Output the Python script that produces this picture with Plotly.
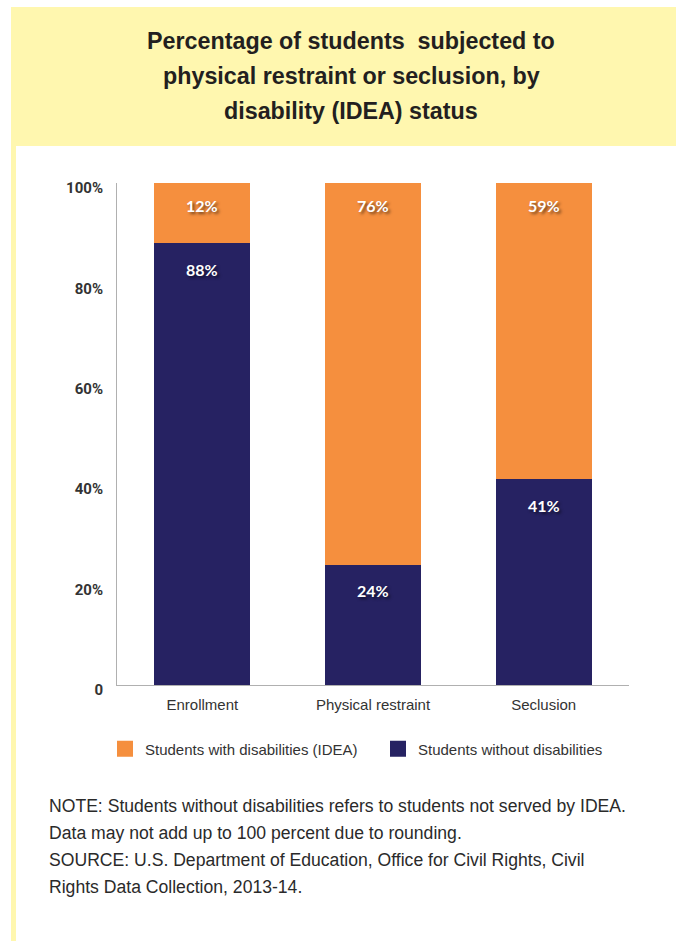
import plotly.graph_objects as go

# Data
categories = ["Enrollment", "Physical restraint", "Seclusion"]
with_disab = [12, 76, 59]       # Students with disabilities (IDEA)
without_disab = [88, 24, 41]    # Students without disabilities
series_names = ["Students with disabilities (IDEA)", "Students without disabilities"]
tick_vals = [0, 20, 40, 60, 80, 100]
tick_text = ["0", "20%", "40%", "60%", "80%", "100%"]
title_lines = [
    "Percentage of students  subjected to",
    "physical restraint or seclusion, by",
    "disability (IDEA) status",
]
note_lines = [
    "NOTE: Students without disabilities refers to students not served by IDEA.",
    "Data may not add up to 100 percent due to rounding.",
    "SOURCE: U.S. Department of Education, Office for Civil Rights, Civil",
    "Rights Data Collection, 2013-14.",
]

ORANGE = "#F58F3E"
NAVY = "#262262"
YELLOW = "#FFF7AF"
SANS = "Liberation Sans, Arial, sans-serif"

W, H = 676, 941
L, R, T, B = 117, 47, 183, 256
PW, PH = W - L - R, H - T - B


def px_x(px):
    return (px - L) / PW


def px_y(py):
    return (H - B - py) / PH


fig = go.Figure()

fig.add_trace(go.Bar(
    x=categories, y=without_disab, name=series_names[1],
    marker=dict(color=NAVY, line=dict(width=0)), showlegend=False,
))
fig.add_trace(go.Bar(
    x=categories, y=with_disab, name=series_names[0],
    marker=dict(color=ORANGE, line=dict(width=0)), showlegend=False,
))

# legend entries with larger square swatches
for name, col in zip(series_names, [ORANGE, NAVY]):
    fig.add_trace(go.Scatter(
        x=[None], y=[None], mode="markers", name=name,
        marker=dict(symbol="square", size=16, color=col),
    ))

annotations = []
shadow = "2px 2px 3px rgba(0,0,0,0.55)"
label_font = dict(family="Lato, Noto Sans, sans-serif", size=16, color="white",
                  weight="bold", shadow=shadow)
for cat, lo, hi in zip(categories, without_disab, with_disab):
    annotations.append(dict(x=cat, y=lo, xref="x", yref="y", text=f"{lo}%",
                            showarrow=False, yanchor="middle", yshift=-26,
                            font=label_font))
    annotations.append(dict(x=cat, y=lo + hi, xref="x", yref="y", text=f"{hi}%",
                            showarrow=False, yanchor="middle", yshift=-22,
                            font=label_font))

# title lines
for i, line in enumerate(title_lines):
    annotations.append(dict(x=px_x(351), y=px_y(41 + 35 * i), xref="paper", yref="paper",
                            text=f"<b>{line}</b>", showarrow=False,
                            xanchor="center", yanchor="middle",
                            font=dict(family=SANS, size=23.3, color="#231f20")))

# notes
for i, line in enumerate(note_lines):
    annotations.append(dict(x=px_x(47), y=px_y(806 + 27 * i), xref="paper", yref="paper",
                            text=line, showarrow=False,
                            xanchor="left", yanchor="middle",
                            font=dict(family=SANS, size=17.6, color="#2a2a2a")))

shapes = [
    dict(type="rect", xref="paper", yref="paper", x0=px_x(11), x1=px_x(W),
         y0=px_y(146), y1=px_y(7), fillcolor=YELLOW, line=dict(width=0), layer="below"),
    dict(type="rect", xref="paper", yref="paper", x0=px_x(11), x1=px_x(16),
         y0=px_y(H), y1=px_y(146), fillcolor=YELLOW, line=dict(width=0), layer="below"),
]

fig.update_layout(
    width=W, height=H,
    margin=dict(l=L, r=R, t=T, b=B, pad=0),
    paper_bgcolor="white", plot_bgcolor="white",
    barmode="stack", bargap=0.4375,
    showlegend=True,
    legend=dict(orientation="h", x=px_x(105), y=px_y(749), xanchor="left", yanchor="middle",
                traceorder="normal",
                font=dict(family=SANS, size=15, color="#333333"),
                entrywidth=228, entrywidthmode="pixels",
                itemclick=False, itemdoubleclick=False, bgcolor="rgba(0,0,0,0)"),
    annotations=annotations,
    shapes=shapes,
    xaxis=dict(range=[-0.5, 2.5], showline=True, linecolor="#b0b0b0", linewidth=1,
               ticks="", showgrid=False, zeroline=False,
               tickfont=dict(family=SANS, size=15, color="#333333"),
               ticklabelstandoff=6, fixedrange=True),
    yaxis=dict(range=[0, 100], tickvals=tick_vals, ticktext=tick_text,
               showline=True, linecolor="#b0b0b0", linewidth=1,
               ticks="", showgrid=False, zeroline=False,
               tickfont=dict(family="Roboto, sans-serif", size=15, color="#333333",
                             weight="bold"),
               ticklabelstandoff=10, ticklabelshift=5, fixedrange=True),
)

fig.write_html("out.html", config={"displayModeBar": False})
